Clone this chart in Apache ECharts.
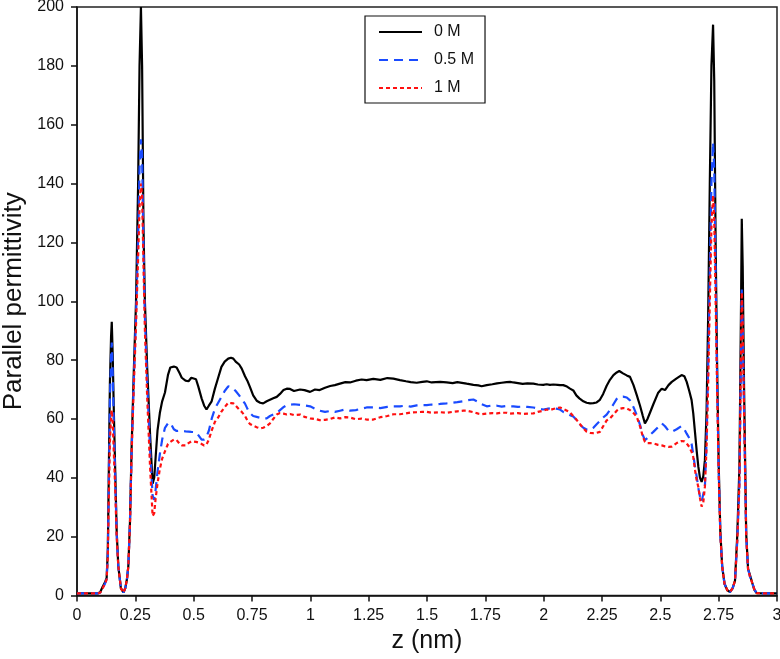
<!DOCTYPE html>
<html>
<head>
<meta charset="utf-8">
<script src="https://cdn.jsdelivr.net/npm/echarts@6/dist/echarts.min.js"></script>
<style>
  html, body { margin: 0; padding: 0; background: #fff; }
  #chart { width: 780px; height: 659px; }
</style>
</head>
<body>
<div id="chart"></div>
<script>
// z positions (nm)
const zValues = [
  0, 0.05, 0.09, 0.1, 0.11, 0.12, 0.127, 0.132, 0.136, 0.141, 0.146, 0.149, 0.153, 0.158, 0.163, 0.17, 0.177, 0.188, 0.199,
  0.207, 0.214, 0.22, 0.227, 0.234, 0.243, 0.253, 0.262, 0.268, 0.274, 0.279, 0.285, 0.291, 0.301, 0.313, 0.324, 0.331,
  0.337, 0.345, 0.355, 0.365, 0.377, 0.39, 0.4, 0.415, 0.427, 0.44, 0.449, 0.465, 0.478, 0.49, 0.498, 0.51, 0.52, 0.534,
  0.545, 0.555, 0.565, 0.577, 0.591, 0.605, 0.619, 0.633, 0.648, 0.66, 0.67, 0.68, 0.695, 0.706, 0.72, 0.73, 0.741, 0.755,
  0.77, 0.785, 0.798, 0.813, 0.827, 0.841, 0.856, 0.87, 0.885, 0.899, 0.913, 0.93, 0.956, 0.975, 0.999, 1.02, 1.04, 1.063,
  1.085, 1.105, 1.127, 1.15, 1.17, 1.195, 1.22, 1.241, 1.27, 1.3, 1.33, 1.356, 1.384, 1.41, 1.43, 1.456, 1.48, 1.499, 1.52,
  1.556, 1.584, 1.61, 1.63, 1.656, 1.67, 1.699, 1.72, 1.734, 1.756, 1.78, 1.8, 1.82, 1.841, 1.856, 1.87, 1.89, 1.91, 1.93,
  1.956, 1.975, 1.998, 2.013, 2.027, 2.041, 2.06, 2.07, 2.084, 2.1, 2.113, 2.127, 2.14, 2.153, 2.17, 2.184, 2.199, 2.213,
  2.227, 2.241, 2.255, 2.27, 2.284, 2.299, 2.313, 2.324, 2.34, 2.356, 2.37, 2.385, 2.399, 2.413, 2.425, 2.434, 2.445, 2.456,
  2.47, 2.49, 2.506, 2.52, 2.535, 2.549, 2.57, 2.591, 2.603, 2.613, 2.624, 2.634, 2.641, 2.649, 2.656, 2.663, 2.67, 2.677,
  2.684, 2.691, 2.698, 2.705, 2.712, 2.719, 2.726, 2.731, 2.737, 2.743, 2.75, 2.757, 2.765, 2.775, 2.787, 2.799, 2.81, 2.82,
  2.83, 2.839, 2.846, 2.849, 2.853, 2.859, 2.868, 2.876, 2.884, 2.893, 2.903, 2.913, 2.95, 3
];
// 0 M
const eps0M = [
  0.7, 0.7, 0.7, 1.2, 3, 4.5, 6, 15, 40, 72, 88, 93, 82, 62, 45, 22, 10, 2.5, 1,
  2.5, 5.5, 10, 25, 50, 75, 100, 140, 180, 200, 180, 125, 100, 77, 55, 38, 40,
  47, 56, 62, 66, 69, 75, 77.5, 77.8, 77.5, 75.5, 74, 73, 72.8, 74, 74.5, 73.5, 71, 67,
  64.5, 63.2, 64.5, 66, 70.3, 74, 77.7, 79.5, 80.5, 80.8, 80.5, 79.5, 78.5, 77.1, 74.5, 73, 70.9, 68,
  66.2, 65.5, 65.3, 66, 66.5, 67, 67.5, 68.5, 69.8, 70.3, 70.2, 69.5, 70, 69.8, 69.2, 70, 69.8, 70.6,
  71.2, 71.5, 72, 72.5, 72.4, 73, 73.4, 73.2, 73.6, 73.3, 73.9, 73.7, 73.2, 72.8, 72.5, 72.3, 72.6, 72.8, 72.4,
  72.6, 72.4, 72.2, 72.5, 72.2, 72, 71.6, 71.4, 71.1, 71.5, 71.8, 72.1, 72.3, 72.5, 72.6, 72.4, 72.2, 71.9, 72.1,
  72, 71.7, 71.6, 71.8, 71.6, 71.7, 71.6, 71.5, 71.5, 71, 70.3, 69.7, 68, 67, 66, 65.5, 65.3, 65.4,
  65.6, 66.5, 68.5, 71.3, 73.3, 74.9, 75.8, 76.3, 75.5, 74.8, 74.3, 71.5, 68.1, 64.5, 61, 58.5, 60, 62.2,
  65, 68.8, 70.3, 69.8, 71.5, 72.6, 73.8, 74.9, 74.5, 72.6, 69.5, 66.4, 62, 55.1, 49, 43.7, 40, 38.6,
  40.5, 46, 62, 95, 140, 180, 194, 175, 120, 80, 45, 22, 10, 4, 1.8, 1.2, 2.5, 5,
  21, 44, 100, 128, 112, 70, 21, 9, 7, 4.5, 2, 0.8, 0.7, 0.7
];
// 0.5 M
const eps05M = [
  0.7, 0.7, 0.7, 1, 2.5, 4, 5.5, 14, 37, 66, 82, 86, 76, 58, 43, 21, 10, 2.5, 1,
  2.5, 5.5, 10, 25, 49, 72, 95, 122, 145, 155, 150, 118, 95, 72, 50, 34, 32.5,
  36, 42, 48, 53, 57, 58.5, 58.7, 56.5, 55.9, 56, 56, 55.8, 55.7, 55.6, 55.8, 55.5, 54.5, 53,
  53, 54, 56, 60, 63.5, 65.5, 67.5, 69.5, 71.1, 70.8, 70.3, 69.5, 68, 66.8, 65.2, 63.5, 62, 61,
  60.7, 60.4, 60.2, 60.2, 61, 61.5, 62, 63, 64, 64.7, 64.8, 65, 64.8, 64.6, 64.3, 63.5, 62.8, 62.4,
  62.7, 62.4, 62.8, 63.2, 62.8, 63, 63.5, 63.9, 63.9, 63.7, 64.1, 64.3, 64.3, 64.5, 64.2, 64.6, 64.7, 64.7, 64.9,
  65.1, 65.3, 65.5, 65.7, 66, 66.3, 66.6, 65.8, 65, 64.3, 64.6, 64.5, 64.2, 64.4, 64.3, 64.3, 64.1, 64.2, 64.1,
  63.9, 63.6, 63.2, 63.4, 63.6, 63.6, 63.4, 63.2, 62.4, 61.8, 61.3, 60.8, 59.7, 58.2, 57, 56.4, 56.2, 57,
  58.2, 59.3, 60.5, 61.5, 63, 65, 66.8, 67.5, 67.6, 67.3, 66.3, 64, 61.3, 58, 54.5, 52.8, 53.5, 54.6,
  55.6, 57.2, 58.5, 57.5, 56, 55.6, 56.5, 57.6, 56.5, 55, 53.5, 51.5, 48, 43.5, 40.3, 36.5, 33.5, 31.9,
  32.5, 37, 52, 78, 110, 140, 154, 145, 110, 76, 43, 21, 10, 4, 1.8, 1.2, 2.5, 5,
  19, 38, 85, 104, 92, 62, 20, 9, 6.5, 4.5, 2, 0.8, 0.7, 0.7
];
// 1 M
const eps1M = [
  0.7, 0.7, 0.7, 1, 2.5, 4, 5.5, 13, 32, 52, 61, 63, 59, 48, 38, 20, 10, 2.5, 1,
  2.5, 5.5, 10, 24, 48, 70, 92, 115, 132, 140, 136, 112, 90, 67, 44, 27, 28,
  33, 38, 43, 46.5, 49, 51.5, 52.2, 53, 52.8, 51.5, 51, 51, 51.8, 52.4, 52.3, 52.2, 52, 51.5,
  51, 51.3, 53, 56, 59, 60.5, 62.5, 64, 65.5, 65.4, 65.3, 64.5, 63.2, 62.4, 61, 59.5, 58.3, 57.7,
  57.2, 56.8, 57, 57.6, 58.5, 60, 61.5, 62, 61.8, 61.5, 61.7, 61.3, 61.5, 60.7, 60.2, 60, 59.6, 59.7,
  60, 60.5, 60.2, 60.6, 60.5, 59.9, 60.1, 59.8, 59.8, 60.6, 61, 61.6, 61.6, 61.9, 62.2, 62.3, 62.4, 62.4, 62.1,
  62.3, 62.1, 62.4, 62.6, 62.8, 62.8, 62.3, 61.8, 61.6, 61.8, 62, 61.9, 62.1, 62.1, 61.8, 61.9, 62, 61.7, 61.8,
  61.9, 62.4, 62.8, 63.2, 63, 63.4, 63.8, 63.9, 63.4, 62.8, 62.2, 60.9, 59.8, 58.5, 56.8, 55.7, 55.3, 55.2,
  55.3, 55.6, 57.5, 59.5, 60.2, 61.5, 62.8, 63.4, 63.7, 63.6, 63, 62, 60.7, 57.5, 54, 52.2, 51.8, 51.8,
  51.7, 51.2, 51, 50.7, 50.5, 50.6, 51.8, 52.5, 52.4, 51.7, 50.5, 48.8, 47.1, 42.5, 39, 36.9, 33, 30.2,
  31.5, 37, 50, 72, 100, 125, 136, 128, 100, 72, 42, 21, 10, 4, 1.8, 1.2, 2.5, 5,
  19, 38, 85, 103, 92, 62, 20, 9, 6.5, 4.5, 2, 0.8, 0.7, 0.7
];
const seriesNames = ['0 M', '0.5 M', '1 M'];

function pairs(vals) { return zValues.map((z, i) => [z, vals[i]]); }

const chart = echarts.init(document.getElementById('chart'), null, { renderer: 'canvas' });
const font = "'Liberation Sans', Arial, Helvetica, sans-serif";
chart.setOption({
  animation: false,
  backgroundColor: '#fff',
  textStyle: { fontFamily: font },
  grid: {
    left: 77, right: 3, top: 7, bottom: 63.5,
    containLabel: false, outerBoundsMode: 'none',
    show: true, borderColor: '#222', borderWidth: 1.5, backgroundColor: 'transparent'
  },
  legend: {
    orient: 'vertical',
    left: 365, top: 16,
    padding: [8, 11, 7, 13],
    itemWidth: 43, itemHeight: 14, itemGap: 12,
    itemStyle: { opacity: 0, borderWidth: 0 },
    borderColor: '#111', borderWidth: 1.2, borderRadius: 0,
    textStyle: { fontFamily: font, fontSize: 16, color: '#111', padding: [0, 0, 0, 7] },
    data: seriesNames
  },
  xAxis: {
    type: 'value', min: 0, max: 3, interval: 0.25,
    name: 'z (nm)', nameLocation: 'middle', nameGap: 27,
    nameTextStyle: { fontFamily: font, fontSize: 25, color: '#111' },
    axisLine: { show: true, onZero: false, lineStyle: { color: '#111', width: 1.5 } },
    axisTick: { show: true, inside: false, length: 6, lineStyle: { color: '#111', width: 1.5 } },
    axisLabel: { fontFamily: font, fontSize: 16, color: '#111', margin: 12 },
    splitLine: { show: false }
  },
  yAxis: {
    type: 'value', min: 0, max: 200, interval: 20,
    name: 'Parallel permittivity', nameLocation: 'middle', nameGap: 50,
    nameTextStyle: { fontFamily: font, fontSize: 26, color: '#111' },
    axisLine: { show: true, onZero: false, lineStyle: { color: '#111', width: 1.5 } },
    axisTick: { show: true, inside: false, length: 6, lineStyle: { color: '#111', width: 1.5 } },
    axisLabel: { fontFamily: font, fontSize: 16, color: '#111', margin: 13 },
    splitLine: { show: false }
  },
  series: [
    { name: seriesNames[0], type: 'line', data: pairs(eps0M), symbol: 'none', clip: true,
      lineStyle: { color: '#000', width: 2.2, type: 'solid' }, itemStyle: { color: '#000' } },
    { name: seriesNames[1], type: 'line', data: pairs(eps05M), symbol: 'none', clip: true,
      lineStyle: { color: '#1a4bff', width: 2.2, type: [9, 6] }, itemStyle: { color: '#1a4bff' } },
    { name: seriesNames[2], type: 'line', data: pairs(eps1M), symbol: 'none', clip: true,
      lineStyle: { color: '#ff1010', width: 2.2, type: [4, 3] }, itemStyle: { color: '#ff1010' } }
  ]
});
</script>
</body>
</html>
